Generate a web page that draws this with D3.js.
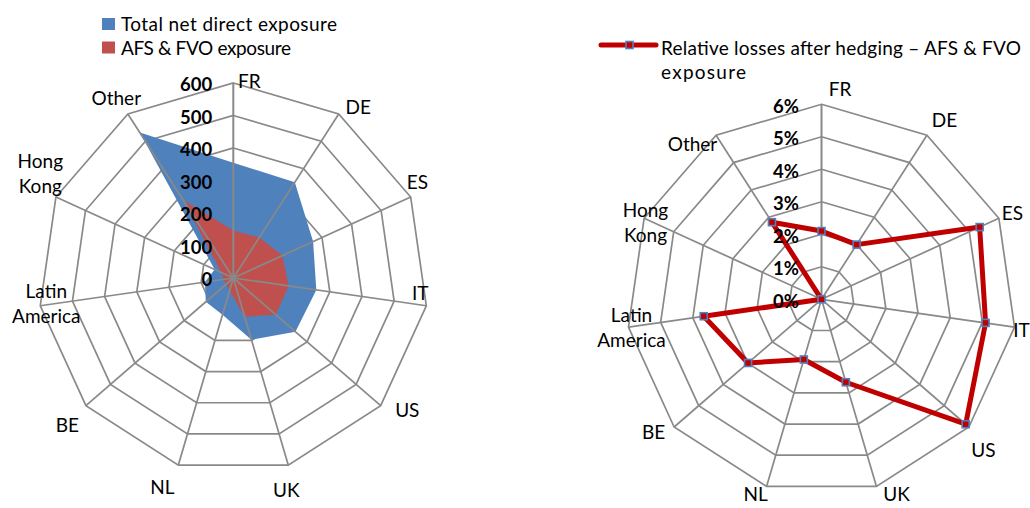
<!DOCTYPE html>
<html><head><meta charset="utf-8">
<script src="https://cdn.jsdelivr.net/npm/d3@7"></script>
<style>
body{margin:0;background:#fff}
svg{display:block}
text{font-family:Lato,"Open Sans",sans-serif;fill:#000}
</style>
</head><body>
<svg id="c" width="1030" height="508"></svg>
<script>
// ---------- DATA ----------
const categories = ["FR","DE","ES","IT","US","UK","NL","BE","Latin America","Hong Kong","Other"];
const totalNetDirect = [355,350,270,258,253,198,118,112,88,63,532];
const afsFvo = [146,148,166,172,173,124,40,28,30,40,285];
const relativeLosses = [0.021,0.020,0.0535,0.051,0.0587,0.0266,0.0193,0.0299,0.0366,0,0.0282];
const leftTicks = [0,100,200,300,400,500,600];
const rightTicks = [0,0.01,0.02,0.03,0.04,0.05,0.06];
const seriesNames = ["Total net direct exposure","AFS & FVO exposure","Relative losses after hedging \u2013 AFS & FVO exposure"];

// ---------- LAYOUT ----------
const svg = d3.select("#c");
const GRID = "#898989", BLUE = "#4F81BD", RED = "#C0504D", DARKRED = "#C00000";
const R = 195;
const n = categories.length;
const angle = d3.scaleLinear().domain([0, n]).range([0, 2 * Math.PI]);
// label block centres relative to chart centre (layout only)
const labelOffL = [[16,-197],[125,-171],[184,-96],[187,15],[174,132],[53,212],[-71,209],[-166,147],[-187,26],[-193,-104],[-117,-180]];
const labelOffR = [[18.5,-210],[123,-179],[191,-86],[200,31],[162,151],[75,195.5],[-66,195.5],[-168,133],[-190,29],[-176,-76],[-129,-155]];

function radar(g, cx, cy, scale, ticks, offs) {
  const root = g.attr("transform", `translate(${cx},${cy})`);
  const rings = root.append("g");
  const ringLine = d3.lineRadial().angle((d, i) => angle(i)).radius(d => scale(d)).curve(d3.curveLinearClosed);
  ticks.filter(t => t > 0).forEach(t => {
    rings.append("path").attr("d", ringLine(categories.map(() => t)))
      .attr("fill", "none").attr("stroke", GRID).attr("stroke-width", 1.7);
  });
  const layers = root.append("g");
  const spokes = root.append("g");
  categories.forEach((c, i) => {
    const a = angle(i);
    spokes.append("line").attr("x1", 0).attr("y1", 0)
      .attr("x2", scale(scale.domain()[1]) * Math.sin(a)).attr("y2", -scale(scale.domain()[1]) * Math.cos(a))
      .attr("stroke", GRID).attr("stroke-width", i === 0 ? 2 : 1.7);
  });
  const labels = root.append("g").attr("font-size", 19);
  categories.forEach((c, i) => {
    const words = c.split(" ");
    const [dx, dy] = offs[i];
    const t = labels.append("text").attr("text-anchor", "middle");
    words.forEach((w, k) => {
      t.append("tspan").attr("x", dx).attr("y", dy + (k - (words.length - 1) / 2) * 25 + 6.5).text(w);
    });
  });
  const tickG = root.append("g").attr("font-size", 18.5).attr("font-weight", "bold");
  return {root, layers, spokes, tickG};
}

// ---- Left chart ----
const rL = d3.scaleLinear().domain([0, 600]).range([0, R]);
const L = radar(svg.append("g"), 233.3, 278, rL, leftTicks, labelOffL);
const areaL = d3.lineRadial().angle((d, i) => angle(i)).radius(d => rL(d)).curve(d3.curveLinearClosed);
L.layers.append("path").attr("d", areaL(totalNetDirect)).attr("fill", BLUE);
L.layers.append("path").attr("d", areaL(afsFvo)).attr("fill", RED);
leftTicks.forEach(t => {
  L.tickG.append("text").attr("x", -21).attr("y", -rL(t) + 8).attr("text-anchor", "end").text(d3.format("d")(t));
});

// ---- Right chart ----
const rR = d3.scaleLinear().domain([0, 0.06]).range([0, R]);
const Rr = radar(svg.append("g"), 821.5, 299.3, rR, rightTicks, labelOffR);
const lineR = d3.lineRadial().angle((d, i) => angle(i)).radius(d => rR(d)).curve(d3.curveLinearClosed);
Rr.layers.raise();
Rr.layers.append("path").attr("d", lineR(relativeLosses)).attr("fill", "none")
  .attr("stroke", DARKRED).attr("stroke-width", 5).attr("stroke-linejoin", "round");
relativeLosses.forEach((v, i) => {
  const a = angle(i), rr = rR(v);
  Rr.layers.append("rect").attr("x", rr * Math.sin(a) - 3.5).attr("y", -rr * Math.cos(a) - 3.5)
    .attr("width", 7).attr("height", 7).attr("fill", DARKRED).attr("stroke", BLUE).attr("stroke-width", 1.6);
});
Rr.tickG.raise();
rightTicks.forEach(t => {
  Rr.tickG.append("text").attr("x", -22.5).attr("y", -rR(t) + 8.5).attr("text-anchor", "end").text(d3.format(".0%")(t));
});

// ---------- LEGENDS ----------
const lg = svg.append("g").attr("font-size", 19);
lg.append("rect").attr("x", 102).attr("y", 18).attr("width", 13).attr("height", 12).attr("fill", BLUE);
lg.append("text").attr("x", 121).attr("y", 31).text(seriesNames[0]).attr("textLength", 216);
lg.append("rect").attr("x", 102).attr("y", 41.5).attr("width", 13).attr("height", 12).attr("fill", RED);
lg.append("text").attr("x", 121).attr("y", 54.5).text(seriesNames[1]).attr("textLength", 170);

const lg2 = svg.append("g").attr("font-size", 19);
lg2.append("line").attr("x1", 601).attr("x2", 656).attr("y1", 45).attr("y2", 45)
  .attr("stroke", DARKRED).attr("stroke-width", 5).attr("stroke-linecap", "round");
lg2.append("rect").attr("x", 626).attr("y", 41.5).attr("width", 7).attr("height", 7)
  .attr("fill", DARKRED).attr("stroke", BLUE).attr("stroke-width", 1.6);
const nm = seriesNames[2];
const cut = nm.lastIndexOf(" ");
lg2.append("text").attr("x", 661).attr("y", 55).text(nm.slice(0, cut)).attr("textLength", 360);
lg2.append("text").attr("x", 661).attr("y", 79).text(nm.slice(cut + 1)).attr("textLength", 85);
</script>
</body></html>
